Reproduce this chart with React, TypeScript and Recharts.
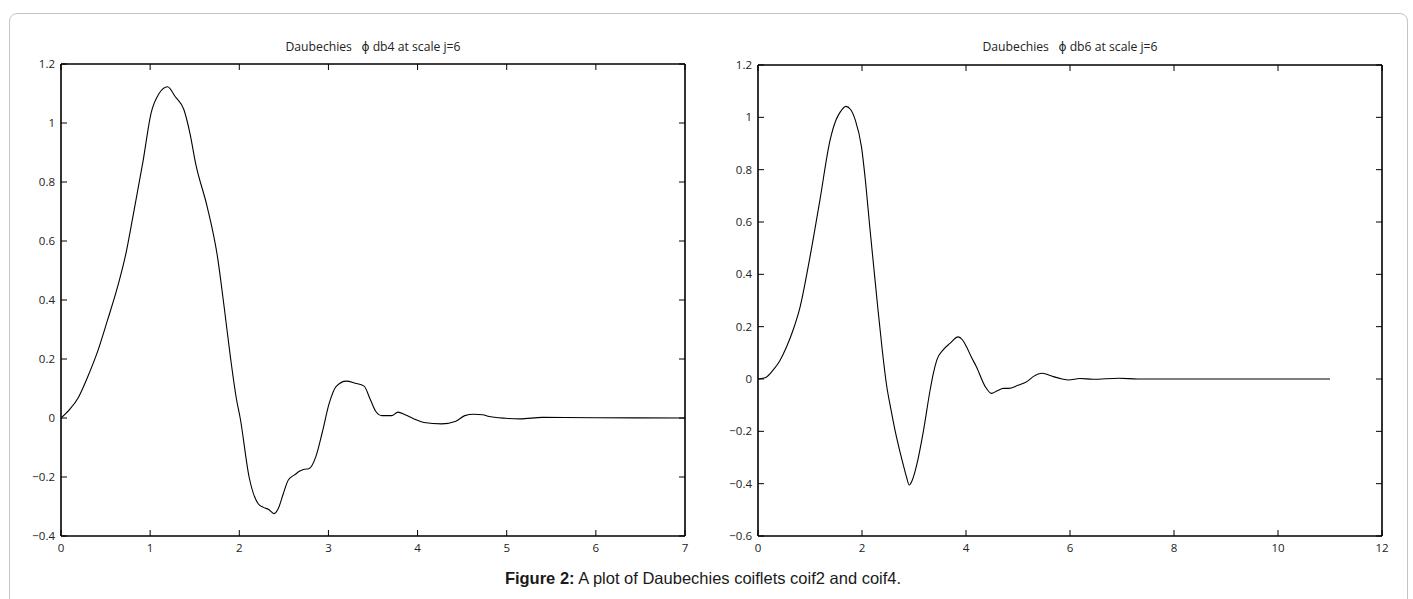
import { Line, LineChart, XAxis, YAxis } from 'recharts';

// db4 scaling function
const db4X = [
  0, 0.1, 0.19, 0.3, 0.41, 0.52, 0.635, 0.73, 0.82, 0.92, 1.01, 1.1, 1.195, 1.28, 1.38, 1.45, 1.51, 1.64,
  1.755, 1.83, 1.9, 1.97, 2.01, 2.11, 2.21, 2.27, 2.33, 2.39, 2.44, 2.49, 2.55, 2.62, 2.68, 2.73, 2.78,
  2.86, 2.93, 3.01, 3.09, 3.2, 3.3, 3.4, 3.47, 3.53, 3.6, 3.71, 3.78, 3.86, 3.96, 4.07, 4.27, 4.43, 4.53,
  4.63, 4.73, 4.79, 4.99, 5.15, 5.4, 6.0, 7.0,
];
const db4Y = [
  0, 0.03, 0.067, 0.14, 0.225, 0.33, 0.445, 0.56, 0.705, 0.87, 1.033, 1.1, 1.123, 1.09, 1.044, 0.96, 0.863,
  0.716, 0.547, 0.377, 0.208, 0.061, 0, -0.2, -0.29, -0.303, -0.31, -0.324, -0.305, -0.26, -0.21, -0.193,
  -0.18, -0.174, -0.172, -0.13, -0.05, 0.051, 0.108, 0.125, 0.118, 0.108, 0.0625, 0.023, 0.008, 0.008, 0.02,
  0.011, -0.003, -0.015, -0.02, -0.011, 0.008, 0.0125, 0.011, 0.006, -0.001, -0.003, 0.002, 0.001, 0,
];

// db6 scaling function, right panel
const db6X = [
  0, 0.15, 0.29, 0.42, 0.55, 0.68, 0.81, 1.0, 1.19, 1.385, 1.5, 1.58, 1.69, 1.78, 1.87, 1.99, 2.07, 2.15,
  2.23, 2.31, 2.39, 2.47, 2.56, 2.65, 2.72, 2.79, 2.85, 2.91, 2.96, 3.05, 3.18, 3.31, 3.37, 3.44, 3.56, 3.69,
  3.85, 3.93, 4.01, 4.1, 4.2, 4.37, 4.49, 4.6, 4.72, 4.82, 5.0, 5.17, 5.3, 5.46, 5.58, 5.68, 5.85, 5.97, 6.19,
  6.44, 6.94, 7.3, 11,
];
const db6Y = [
  0, 0.006, 0.034, 0.07, 0.123, 0.19, 0.276, 0.467, 0.683, 0.912, 0.99, 1.02, 1.042, 1.03, 0.99, 0.887, 0.75,
  0.58, 0.42, 0.26, 0.11, -0.02, -0.12, -0.21, -0.27, -0.325, -0.37, -0.405, -0.39, -0.33, -0.2, -0.042, 0.02,
  0.073, 0.111, 0.136, 0.161, 0.15, 0.123, 0.085, 0.047, -0.029, -0.055, -0.045, -0.036, -0.036, -0.024, -0.01,
  0.01, 0.022, 0.016, 0.009, 0, -0.004, 0.002, -0.001, 0.003, 0, 0,
];

const db4XTicks = [0, 1, 2, 3, 4, 5, 6, 7];
const db4YTicks = [-0.4, -0.2, 0, 0.2, 0.4, 0.6, 0.8, 1, 1.2];
const db6XTicks = [0, 2, 4, 6, 8, 10, 12];
const db6YTicks = [-0.6, -0.4, -0.2, 0, 0.2, 0.4, 0.6, 0.8, 1, 1.2];

const TICK = 6;
const tickFont = { fontFamily: '"Open Sans", sans-serif', fontSize: 11.5, fill: '#222' };

const fmt = (v: number) => String(Math.round(v * 10) / 10).replace('-', '\u2212');

type TickProps = { x?: number; y?: number; payload?: { value: number } };

const BottomTick = ({ x = 0, y = 0, payload }: TickProps) => (
  <g>
    <line x1={x} y1={y} x2={x} y2={y - TICK} stroke="#000" />
    <text x={x} y={y + 16} textAnchor="middle" {...tickFont}>
      {fmt(payload?.value ?? 0)}
    </text>
  </g>
);

const LeftTick = ({ x = 0, y = 0, payload }: TickProps) => (
  <g>
    <line x1={x} y1={y} x2={x + TICK} y2={y} stroke="#000" />
    <text x={x - 6} y={y + 4} textAnchor="end" {...tickFont}>
      {fmt(payload?.value ?? 0)}
    </text>
  </g>
);

const TopTick = ({ x = 0, y = 0 }: TickProps) => <line x1={x} y1={y} x2={x} y2={y + TICK} stroke="#000" />;
const RightTick = ({ x = 0, y = 0 }: TickProps) => <line x1={x} y1={y} x2={x - TICK} y2={y} stroke="#000" />;

interface PanelProps {
  xs: number[];
  ys: number[];
  xTicks: number[];
  yTicks: number[];
  width: number;
  // plot box edges inside the panel
  box: { top: number; right: number; bottom: number; left: number };
}

function Panel({ xs, ys, xTicks, yTicks, width, box }: PanelProps) {
  const data = xs.map((x, i) => ({ x, y: ys[i] }));
  const xDomain: [number, number] = [xTicks[0], xTicks[xTicks.length - 1]];
  const yDomain: [number, number] = [yTicks[0], yTicks[yTicks.length - 1]];
  const axisLine = { stroke: '#000', strokeWidth: 1.6 };
  const margin = { top: box.top - 1, right: box.right - 1, bottom: box.bottom - 1, left: box.left - 1 };
  return (
    <LineChart width={width} height={599} data={data} margin={margin}>
      <XAxis
        dataKey="x"
        type="number"
        domain={xDomain}
        ticks={xTicks}
        interval={0}
        height={1}
        tickSize={0}
        tickMargin={0}
        tickLine={false}
        axisLine={axisLine}
        allowDataOverflow
        tick={(p: TickProps) => <BottomTick {...p} />}
      />
      <XAxis
        xAxisId="top"
        orientation="top"
        dataKey="x"
        type="number"
        domain={xDomain}
        ticks={xTicks}
        interval={0}
        height={1}
        tickSize={0}
        tickMargin={0}
        tickLine={false}
        axisLine={axisLine}
        allowDataOverflow
        tick={(p: TickProps) => <TopTick {...p} />}
      />
      <YAxis
        type="number"
        domain={yDomain}
        ticks={yTicks}
        interval={0}
        width={1}
        tickSize={0}
        tickMargin={0}
        tickLine={false}
        axisLine={axisLine}
        allowDataOverflow
        tick={(p: TickProps) => <LeftTick {...p} />}
      />
      <YAxis
        yAxisId="right"
        orientation="right"
        type="number"
        domain={yDomain}
        ticks={yTicks}
        interval={0}
        width={1}
        tickSize={0}
        tickMargin={0}
        tickLine={false}
        axisLine={axisLine}
        allowDataOverflow
        tick={(p: TickProps) => <RightTick {...p} />}
      />
      <Line
        type="monotone"
        dataKey="y"
        stroke="#000"
        strokeWidth={1.1}
        dot={false}
        activeDot={false}
        isAnimationActive={false}
      />
    </LineChart>
  );
}

const titleStyle = {
  position: 'absolute' as const,
  top: 41,
  fontFamily: '"Open Sans", "DejaVu Sans", sans-serif',
  fontSize: 12.2,
  lineHeight: '12px',
  color: '#222',
  textAlign: 'center' as const,
  whiteSpace: 'pre' as const,
};

export default function App() {
  return (
    <div style={{ position: 'absolute', left: 0, top: 0, width: 1413, height: 599, background: '#fff', overflow: 'hidden' }}>
      <div
        style={{
          position: 'absolute',
          left: 9,
          top: 13,
          width: 1397,
          height: 700,
          border: '1px solid #c4c4c4',
          borderRadius: 8,
        }}
      />
      <div style={{ position: 'absolute', left: 0, top: 0 }}>
        <Panel xs={db4X} ys={db4Y} xTicks={db4XTicks} yTicks={db4YTicks} width={700}
          box={{ top: 64, right: 15, bottom: 63, left: 61 }} />
      </div>
      <div style={{ position: 'absolute', left: 700, top: 0 }}>
        <Panel xs={db6X} ys={db6Y} xTicks={db6XTicks} yTicks={db6YTicks} width={713}
          box={{ top: 65, right: 31, bottom: 63, left: 58 }} />
      </div>
      <div style={{ ...titleStyle, left: 61, width: 624 }}>Daubechies   {'\u03D5'} db4 at scale j=6</div>
      <div style={{ ...titleStyle, left: 758, width: 624 }}>Daubechies   {'\u03D5'} db6 at scale j=6</div>
      <div
        style={{
          position: 'absolute',
          left: 0,
          top: 570,
          width: 1406,
          textAlign: 'center',
          fontFamily: '"Liberation Sans", Arial, sans-serif',
          fontSize: 16.5,
          lineHeight: '16.5px',
          color: '#1a1a1a',
        }}
      >
        <b>Figure 2:</b> A plot of Daubechies coiflets coif2 and coif4.
      </div>
    </div>
  );
}
